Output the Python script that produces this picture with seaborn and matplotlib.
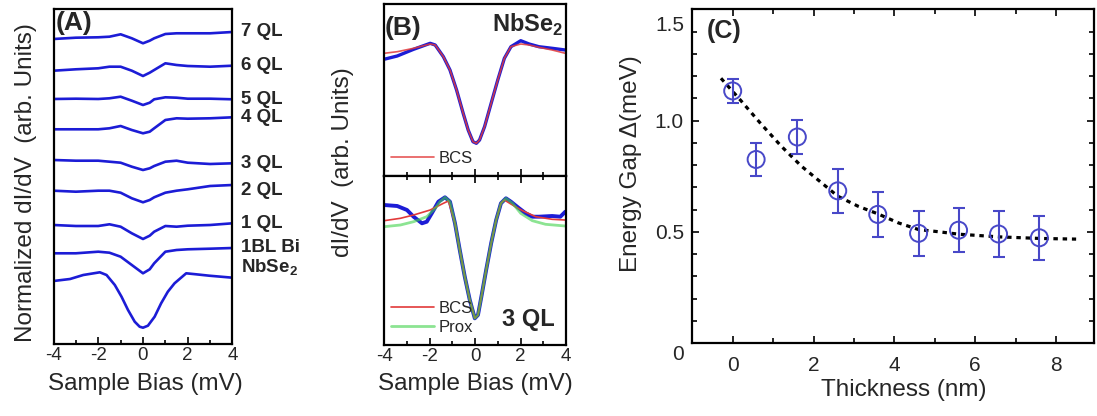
import matplotlib
matplotlib.use("Agg")
import matplotlib.pyplot as plt
import matplotlib.transforms as mtransforms
import seaborn as sns
from matplotlib.ticker import MultipleLocator, FixedLocator, NullLocator

sns.set_theme(style="ticks")
plt.rcParams["font.family"] = ["Liberation Sans", "DejaVu Sans"]
plt.rcParams["mathtext.fontset"] = "custom"
plt.rcParams["mathtext.rm"] = "Liberation Sans"
plt.rcParams["mathtext.bf"] = "Liberation Sans:bold"

# ---------------- (A) stacked dI/dV spectra, arb. units ----------------
bias_a = [-4, -3, -2, -1.5, -1, -0.5, 0, 0.3, 0.5, 1, 1.5, 2, 3, 4]
ql7 = [305.0, 306.3, 306.7, 307.3, 309.7, 305.7, 300.7, 303.3, 305.7, 310.0, 310.7, 310.7, 310.7, 312.0]
ql6 = [273.3, 274.7, 275.7, 277.3, 277.3, 273.3, 268.0, 271.3, 274.0, 280.7, 279.0, 278.0, 277.3, 278.3]
ql5 = [245.0, 245.3, 245.0, 245.7, 247.3, 243.3, 239.0, 241.3, 244.7, 246.7, 246.3, 245.3, 245.3, 244.7]
ql4 = [214.7, 214.7, 214.7, 215.7, 218.0, 214.0, 210.7, 212.3, 215.7, 224.0, 225.7, 225.3, 225.7, 226.7]
ql3 = [184.0, 183.3, 183.3, 182.3, 181.3, 177.3, 174.0, 175.7, 178.0, 182.3, 183.3, 181.3, 180.0, 180.7]
ql2 = [153.3, 152.3, 153.3, 153.3, 151.3, 145.7, 141.7, 144.0, 146.7, 151.3, 153.3, 154.7, 158.0, 159.0]
ql1 = [119.0, 118.0, 118.0, 119.7, 117.3, 110.7, 105.0, 108.3, 112.3, 118.0, 117.3, 118.3, 119.0, 120.7]
bl_bi = [90.7, 90.7, 92.3, 91.3, 87.3, 79.0, 70.7, 74.7, 80.7, 92.3, 94.0, 94.7, 95.3, 96.0]
bias_nb_a = [-4.0, -3.26, -2.67, -1.93, -1.63, -1.26, -0.96, -0.67, -0.37, -0.15, 0, 0.22, 0.52,
             0.81, 1.11, 1.41, 1.93, 2.37, 2.96, 4.0]
nbse2_a = [63.0, 65.0, 69.0, 71.7, 69.0, 59.0, 47.3, 34.0, 22.3, 17.3, 16.3, 18.3, 27.3,
           40.7, 52.3, 60.7, 70.7, 69.7, 68.3, 66.3]
trace_names = ["7 QL", "6 QL", "5 QL", "4 QL", "3 QL", "2 QL", "1 QL", "1BL Bi", r"NbSe$_\mathbf{2}$"]

# ---------------- (B) NbSe2 and 3 QL spectra with fits ----------------
bias_b1 = [-4.0, -3.42, -2.7, -1.97, -1.75, -1.39, -1.1, -0.81, -0.52, -0.30, -0.09, 0.06,
           0.2, 0.42, 0.71, 1.0, 1.29, 1.58, 2.01, 2.38, 2.81, 3.39, 3.97]
nb_data = [116.7, 120.0, 126.7, 132.7, 131.0, 119.3, 106.0, 86.0, 62.7, 46.0, 34.3, 32.7,
           36.0, 49.3, 72.7, 96.0, 117.7, 129.3, 135.3, 132.0, 129.3, 127.7, 126.0]
nb_bcs = [122.7, 124.3, 127.7, 132.0, 131.0, 119.3, 106.0, 86.0, 62.7, 46.0, 34.3, 32.7,
          36.0, 49.3, 72.7, 96.0, 117.7, 129.3, 132.0, 131.0, 128.7, 126.0, 122.7]

bias_b2 = [-4.0, -3.42, -2.99, -2.7, -2.33, -2.12, -1.9, -1.61, -1.32, -1.1, -0.88, -0.67,
           -0.45, -0.23, -0.01, 0.13, 0.28, 0.49, 0.71, 0.93, 1.14, 1.36, 1.58, 1.94, 2.23,
           2.52, 2.81, 3.39, 3.75, 3.97]
ql3_data = [140.0, 139.0, 135.0, 128.3, 121.7, 123.3, 131.7, 143.3, 147.7, 143.3, 121.7, 95.0,
            68.3, 45.0, 26.7, 30.0, 48.3, 75.0, 101.7, 125.0, 141.7, 146.7, 143.3, 136.7, 131.7,
            128.3, 128.3, 129.0, 128.3, 133.3]
bias_bcs = [-4.0, -3.28, -2.7, -1.97, -1.39, -1.17, -0.88, -0.67, -0.45, -0.23, -0.01, 0.13,
            0.28, 0.49, 0.71, 0.93, 1.14, 1.29, 1.65, 2.09, 2.67, 3.39, 3.97]
ql3_bcs = [124.3, 126.7, 130.0, 135.0, 141.7, 144.0, 121.7, 95.0, 68.3, 45.0, 26.7, 30.0,
           48.3, 75.0, 101.7, 125.0, 141.7, 145.0, 140.0, 134.3, 128.3, 125.7, 125.0]
bias_prox = [-4.0, -3.28, -2.7, -2.12, -1.75, -1.54, -1.32, -1.1, -0.88, -0.67, -0.45, -0.23,
             -0.01, 0.13, 0.28, 0.49, 0.71, 0.93, 1.14, 1.36, 1.65, 2.01, 2.52, 3.1, 3.97]
ql3_prox = [118.3, 120.0, 123.3, 128.3, 136.7, 143.3, 147.7, 143.3, 121.7, 95.0, 68.3, 45.0,
            26.7, 30.0, 48.3, 75.0, 101.7, 125.0, 141.7, 146.7, 141.7, 131.7, 124.3, 120.7, 119.0]

# ---------------- (C) gap vs thickness ----------------
thickness = [0, 0.58, 1.6, 2.6, 3.59, 4.6, 5.59, 6.58, 7.59]
gap = [1.133, 0.825, 0.926, 0.684, 0.578, 0.493, 0.507, 0.49, 0.473]
gap_err = [0.052, 0.075, 0.078, 0.10, 0.10, 0.102, 0.10, 0.103, 0.10]
fit_x = [-0.29, 0.2, 0.7, 1.2, 1.7, 2.2, 2.6, 3.1, 3.6, 4.1, 4.6, 5.1, 5.6, 6.6, 7.6, 8.5]
fit_y = [1.19, 1.09, 0.985, 0.885, 0.795, 0.72, 0.66, 0.615, 0.58, 0.54, 0.51, 0.5, 0.489,
         0.477, 0.47, 0.467]

blue = "#1c1cd6"
red = "#e23a3a"
green = "#3fd24a"
mblue = "#4848c8"

fig = plt.figure(figsize=(10.97, 4.16), dpi=100)
ax_a = fig.add_axes([0.04877, 0.17308, 0.16317, 0.80457])
ax_b1 = fig.add_axes([0.35005, 0.57692, 0.16591, 0.41346])
ax_b2 = fig.add_axes([0.35005, 0.17067, 0.16591, 0.40625])
ax_c = fig.add_axes([0.63108, 0.17548, 0.36573, 0.80216])

for ax in (ax_a, ax_b1, ax_b2, ax_c):
    for s in ax.spines.values():
        s.set_linewidth(1.6)
        s.set_color("black")

# ---- A ----
traces = [ql7, ql6, ql5, ql4, ql3, ql2, ql1, bl_bi]
for vals in traces:
    sns.lineplot(x=bias_a, y=vals, ax=ax_a, color=blue, lw=1.9, estimator=None, sort=False, legend=False)
sns.lineplot(x=bias_nb_a, y=nbse2_a, ax=ax_a, color=blue, lw=1.9, estimator=None, sort=False, legend=False)
ends = [t[-1] for t in traces] + [nbse2_a[-1]]
nudge = {5: -6, 8: 10}
for i, (name, yv) in enumerate(zip(trace_names, ends)):
    ax_a.text(4.4, yv + nudge.get(i, 0), name, fontsize=13.5, fontweight="bold", va="center", ha="left",
              clip_on=False)
ax_a.set_xlim(-4, 4)
ax_a.set_ylim(0, 334.7)
ax_a.set_xticks([-4, -2, 0, 2, 4])
ax_a.set_xticklabels(["-4", "-2", "0", "2", "4"])
ax_a.xaxis.set_minor_locator(MultipleLocator(1))
ax_a.yaxis.set_major_locator(NullLocator())
ax_a.tick_params(axis="x", which="both", direction="in", labelsize=13.5, pad=2, width=1.4)
ax_a.tick_params(axis="x", which="major", length=5)
ax_a.tick_params(axis="x", which="minor", length=3)
ax_a.set_xlabel("Sample Bias (mV)", fontsize=17.5)
ax_a.xaxis.set_label_coords(0.516, -0.087)
ax_a.set_ylabel("Normalized dI/dV  (arb. Units)", fontsize=17.5)
ax_a.yaxis.set_label_coords(-0.094, 0.481)
ax_a.text(0.01, 0.96, "(A)", transform=ax_a.transAxes, fontsize=19, fontweight="bold", va="center", ha="left")

# ---- B top ----
sns.lineplot(x=bias_b1, y=nb_data, ax=ax_b1, color=blue, lw=2.4, estimator=None, sort=False, legend=False)
sns.lineplot(x=bias_b1, y=nb_bcs, ax=ax_b1, color=red, lw=1.2, alpha=0.85, estimator=None, sort=False,
             label="BCS")
ax_b1.set_xlim(-4, 4)
ax_b1.set_ylim(0, 172)
ax_b1.legend(loc="lower left", bbox_to_anchor=(0.0, 0.02), frameon=False, fontsize=12, handlelength=2.6,
             handletextpad=0.3, borderpad=0.2, borderaxespad=0.2)
ax_b1.text(0.79, 0.878, r"NbSe$_\mathbf{2}$", transform=ax_b1.transAxes, fontsize=17, fontweight="bold",
           ha="center", va="center")
ax_b1.text(0.005, 0.86, "(B)", transform=ax_b1.transAxes, fontsize=19, fontweight="bold", va="center", ha="left")

# ---- B bottom ----
sns.lineplot(x=bias_b2, y=ql3_data, ax=ax_b2, color=blue, lw=2.8, estimator=None, sort=False, legend=False)
sns.lineplot(x=bias_bcs, y=ql3_bcs, ax=ax_b2, color=red, lw=1.2, estimator=None, sort=False, label="BCS")
sns.lineplot(x=bias_prox, y=ql3_prox, ax=ax_b2, color=green, lw=2.0, alpha=0.6, estimator=None, sort=False,
             label="Prox")
ax_b2.set_xlim(-4, 4)
ax_b2.set_ylim(0, 169)
ax_b2.legend(loc="lower left", bbox_to_anchor=(0.0, 0.02), frameon=False, fontsize=12, handlelength=2.6,
             handletextpad=0.3, borderpad=0.2, borderaxespad=0.2, labelspacing=0.25)
ax_b2.text(0.795, 0.148, "3 QL", transform=ax_b2.transAxes, fontsize=17, fontweight="bold",
           ha="center", va="center")
for ax in (ax_b1, ax_b2):
    ax.set_xticks([-4, -2, 0, 2, 4])
    ax.xaxis.set_minor_locator(MultipleLocator(1))
    ax.yaxis.set_major_locator(NullLocator())
    ax.tick_params(axis="x", which="both", direction="in", labelsize=13.5, pad=2, width=1.4)
    ax.tick_params(axis="x", which="major", length=5)
    ax.tick_params(axis="x", which="minor", length=3)
    ax.set_xlabel("")
    ax.set_ylabel("")
ax_b1.tick_params(axis="x", labelbottom=False)
ax_b2.tick_params(axis="x", which="both", top=True)
ax_b2.set_xticklabels(["-4", "-2", "0", "2", "4"])
ax_b2.set_xlabel("Sample Bias (mV)", fontsize=17.5)
ax_b2.xaxis.set_label_coords(0.5, -0.167)
fig.text(343 / 1097, 1 - 162 / 416, "dI/dV  (arb. Units)", rotation=90, fontsize=17.5, ha="center", va="center")

# ---- C ----
sns.lineplot(x=fit_x, y=fit_y, ax=ax_c, color="black", lw=2.3, estimator=None, sort=False, legend=False,
             linestyle=(0, (1.4, 1.5)))
ax_c.errorbar(thickness, gap, yerr=gap_err, fmt="none", ecolor=mblue, elinewidth=1.5, capsize=4, capthick=1.5)
sns.scatterplot(x=thickness, y=gap, ax=ax_c, marker="o", s=150, facecolor="none", edgecolor=mblue,
                linewidth=1.4, zorder=5, legend=False)
ax_c.set_xlim(-1, 8.93)
ax_c.set_ylim(0, 1.5)
ax_c.xaxis.set_major_locator(MultipleLocator(2))
ax_c.xaxis.set_minor_locator(MultipleLocator(1))
ax_c.yaxis.set_major_locator(FixedLocator([0, 0.5, 1.0, 1.5]))
ax_c.yaxis.set_minor_locator(MultipleLocator(0.1))
ax_c.set_yticklabels(["0", "0.5", "1.0", "1.5"])
ax_c.tick_params(which="both", direction="in", top=True, right=True, width=1.4)
ax_c.tick_params(which="major", length=5)
ax_c.tick_params(which="minor", length=3.5)
ax_c.tick_params(axis="x", labelsize=15, pad=9)
ax_c.tick_params(axis="y", labelsize=15, pad=6)
# the end labels of the gap axis sit a little below their ticks in the original
ylabels_c = ax_c.get_yticklabels()
for lab, dy in ((ylabels_c[0], -6.5), (ylabels_c[-1], -10)):
    lab.set_transform(lab.get_transform() + mtransforms.ScaledTranslation(0, dy / 72, fig.dpi_scale_trans))
ax_c.set_xlabel("Thickness (nm)", fontsize=17.5)
ax_c.xaxis.set_label_coords(0.528, -0.108)
ax_c.set_ylabel("Energy Gap \u0394(meV)", fontsize=17.5)
ax_c.yaxis.set_label_coords(-0.125, 0.538)
ax_c.text(0.036, 0.936, "(C)", transform=ax_c.transAxes, fontsize=18, fontweight="bold", va="center", ha="left")

fig.savefig("out.png", dpi=100)
